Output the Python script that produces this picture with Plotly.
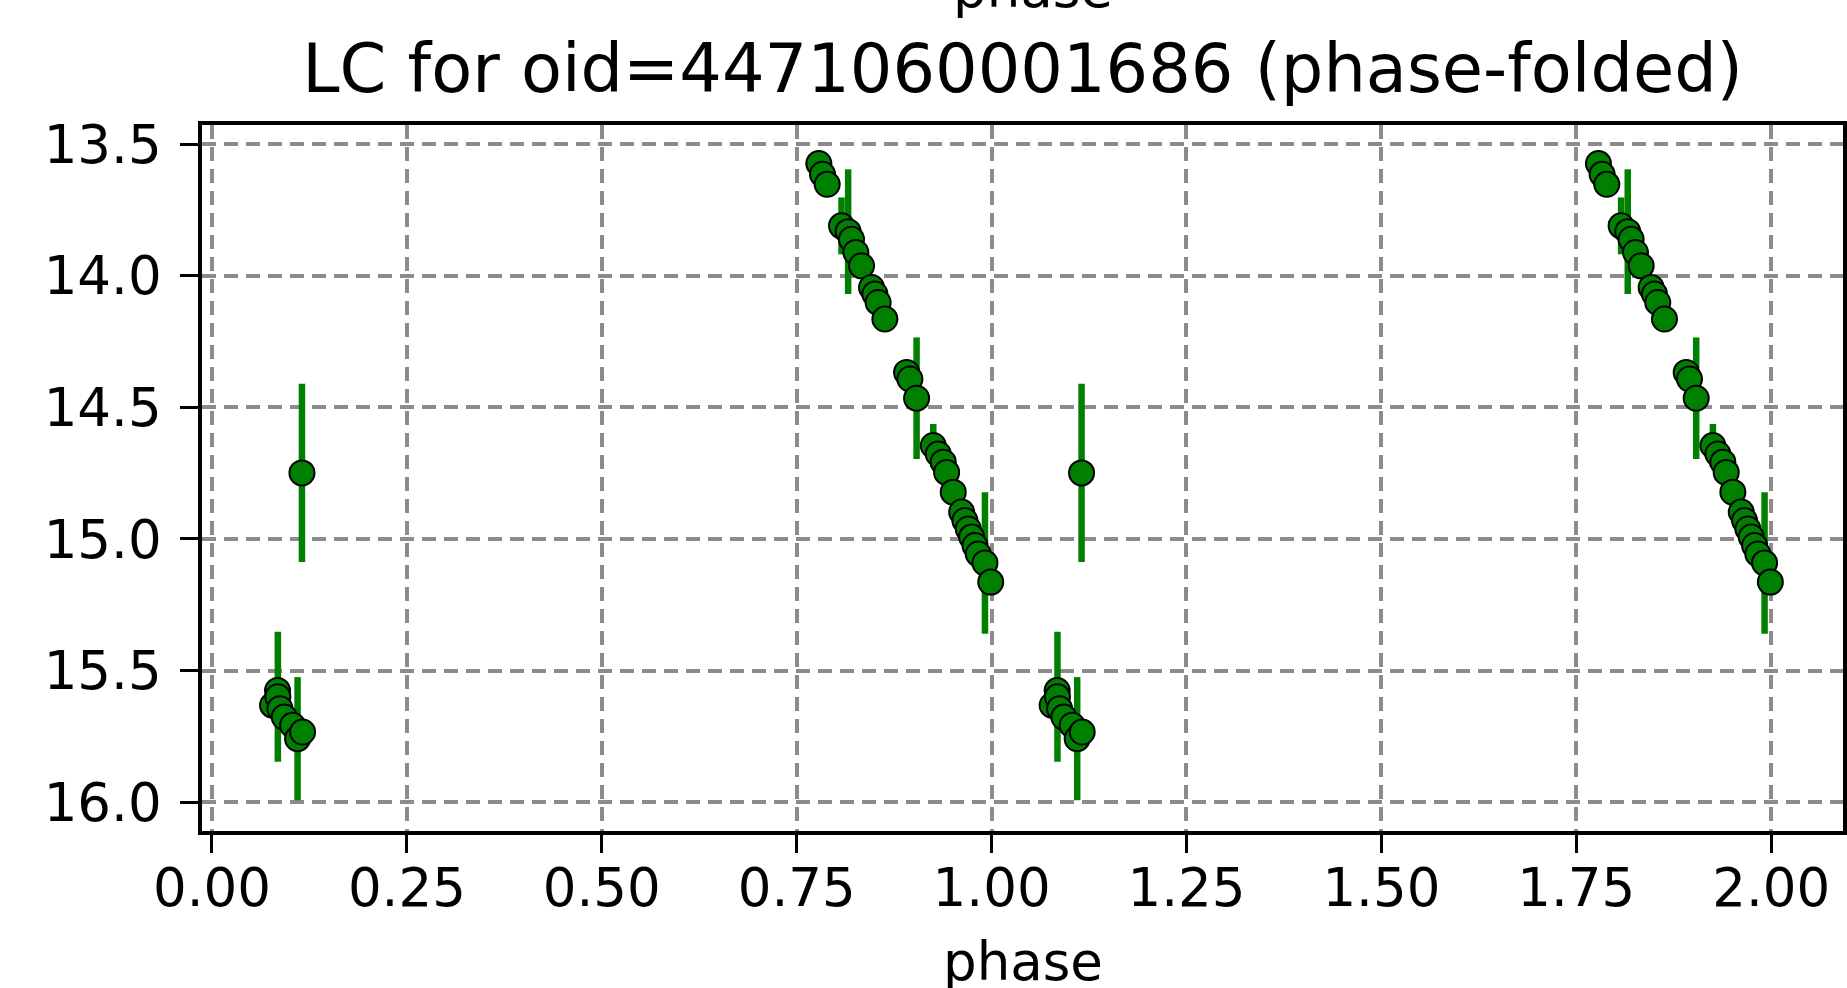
import plotly.graph_objects as go

# phase-folded light curve (base phase in [0,1)); drawn at phase and phase+1
phase = [0.0777, 0.0841, 0.0845, 0.0872, 0.0927, 0.1034, 0.1098, 0.1154, 0.1162,
         0.7784, 0.7831, 0.7891, 0.8075, 0.8160, 0.8203, 0.8259, 0.8332, 0.8460,
         0.8503, 0.8545, 0.8631, 0.8910, 0.8952, 0.9038, 0.9252, 0.9316, 0.9380,
         0.9423, 0.9508, 0.9616, 0.9658, 0.9701, 0.9744, 0.9787, 0.9829, 0.9915,
         0.9989]
mag = [15.632, 15.576, 15.600, 15.645, 15.677, 15.708, 15.759, 14.749, 15.734,
       13.573, 13.614, 13.652, 13.810, 13.832, 13.861, 13.911, 13.962, 14.044,
       14.069, 14.101, 14.164, 14.367, 14.392, 14.465, 14.645, 14.677, 14.708,
       14.747, 14.822, 14.898, 14.930, 14.962, 14.993, 15.025, 15.057, 15.091,
       15.164]
mag_err = [0.03, 0.03, 0.247, 0.03, 0.03, 0.03, 0.234, 0.339, 0.03,
           0.03, 0.03, 0.03, 0.108, 0.237, 0.03, 0.03, 0.03, 0.03,
           0.03, 0.03, 0.03, 0.03, 0.03, 0.231, 0.082, 0.03, 0.03,
           0.03, 0.03, 0.03, 0.03, 0.03, 0.03, 0.03, 0.06, 0.269,
           0.03]

x_ticks = [0.0, 0.25, 0.5, 0.75, 1.0, 1.25, 1.5, 1.75, 2.0]
y_ticks = [13.5, 14.0, 14.5, 15.0, 15.5, 16.0]

title_text = "LC for oid=4471060001686 (phase-folded)"
x_label = "phase"

xs = phase + [p + 1 for p in phase]
ys = mag + mag
es = mag_err + mag_err

FONT = "DejaVu Sans"
W, H = 1847, 988
L, R, T, B = 202, 4, 125, 157

fig = go.Figure()
fig.add_trace(go.Scatter(
    x=xs, y=ys, mode="markers",
    error_y=dict(type="data", array=es, visible=True, color="#008000",
                 thickness=6.5, width=0),
    marker=dict(color="#008000", size=25, line=dict(color="black", width=2)),
    showlegend=False, hoverinfo="skip",
))

grid = dict(showgrid=True, gridcolor="#8c8c8c", gridwidth=3.5, griddash="14px,8px")
common = dict(ticks="outside", ticklen=18, tickwidth=3, tickcolor="black",
              showline=True, linecolor="black", linewidth=3.5, mirror=True,
              zeroline=False, automargin=False,
              tickfont=dict(family=FONT, size=53, color="black"), **grid)
fig.update_xaxes(range=[-0.0128, 2.0921], tickvals=x_ticks, tickformat=".2f",
                 ticklabelstandoff=-10, **common)
fig.update_yaxes(range=[16.110, 13.4266], tickvals=y_ticks, tickformat=".1f",
                 ticklabelstandoff=8, **common)

ph = H - T - B
fig.update_layout(
    width=W, height=H,
    margin=dict(l=L, r=R, t=T, b=B, autoexpand=False),
    paper_bgcolor="white", plot_bgcolor="white",
    font=dict(family=FONT, color="black"),
    title=dict(text=title_text, x=(L + (W - L - R) / 2) / W, xanchor="center",
               y=1 - 69 / H, yanchor="middle",
               font=dict(family=FONT, size=67, color="black")),
    annotations=[
        dict(text=x_label, xref="paper", yref="paper", x=0.5, y=-131 / ph,
             xanchor="center", yanchor="middle", showarrow=False,
             font=dict(family=FONT, size=53, color="black")),
        dict(text=x_label, xref="paper", yref="paper", x=(1033 - L) / (W - L - R),
             y=1 + 136 / ph, xanchor="center", yanchor="middle", showarrow=False,
             font=dict(family=FONT, size=53, color="black")),
    ],
)

fig.write_html(
    "out.html",
    config={"displayModeBar": False},
    post_script="document.body.style.margin='0';document.body.style.overflow='hidden';",
)
